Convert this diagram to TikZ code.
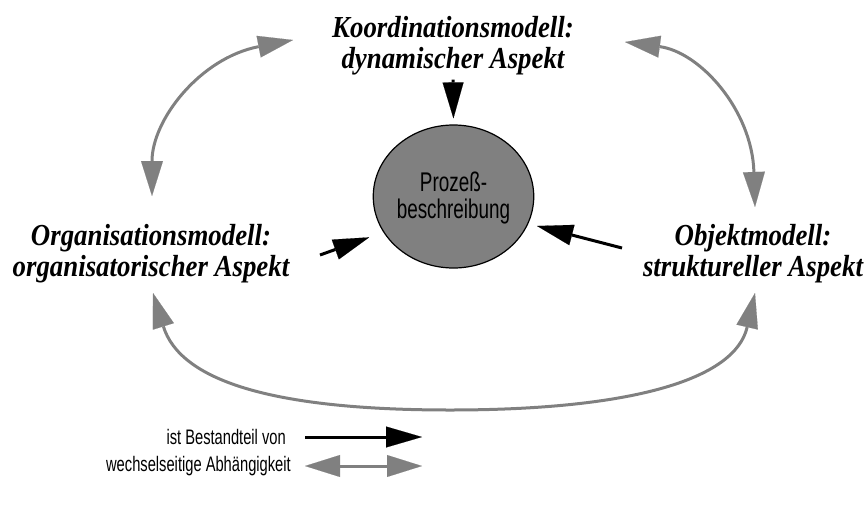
\documentclass[tikz,border=0pt]{standalone}
\usepackage{fontspec}
\setmainfont{Liberation Serif}[FakeStretch=0.88]
\newfontfamily\narrowsans{Liberation Sans}[FakeStretch=0.7]
\usetikzlibrary{arrows.meta,shapes.geometric}
\definecolor{depgray}{RGB}{128,128,128}
\definecolor{procgray}{RGB}{128,128,128}

\begin{document}
\begin{tikzpicture}[x=1pt,y=-1pt,
  model/.style={font=\bfseries\itshape\fontsize{30.5}{31}\selectfont,
    align=center, inner sep=0pt},
  procnode/.style={ellipse, draw=black, line width=1.2pt, fill=procgray,
    minimum width=151pt, minimum height=143pt, inner sep=0pt, align=center,
    font=\narrowsans\fontsize{27}{27}\selectfont},
  partof/.style={draw=black, line width=3pt,
    -{Triangle[length=36pt,width=21pt,line width=0.1pt]}},
  mutual/.style={draw=depgray, line width=3pt,
    {Triangle[length=35pt,width=22pt,line width=0.1pt]}-{Triangle[length=35pt,width=22pt,line width=0.1pt]}},
  legendtext/.style={font=\narrowsans\fontsize{21}{24}\selectfont, inner sep=0pt, anchor=east}]

  \useasboundingbox (0,0) rectangle (867,506);

  % the three partial models and the process description
  \node[model] (koord) at (453,46) {Koordinationsmodell:\\dynamischer Aspekt};
  \node[model] (orga)  at (151,254) {Organisationsmodell:\\organisatorischer Aspekt};
  \node[model] (objekt) at (753,254) {Objektmodell:\\struktureller Aspekt};
  \node[procnode] (proc) at (453.5,196.5) {\rule{0pt}{22pt}Prozeß-\\beschreibung};

  % "is part of" arrows
  \coordinate (orgtail) at (320,255);
  \coordinate (objtail) at (622,248);
  \draw[partof, shorten <=4pt, shorten >=6pt] (koord.south) -- (proc.north);
  \draw[partof, shorten >=15pt] (orgtail) -- (proc.207);
  \draw[partof, shorten >=9pt] (objtail) -- (proc.340);

  % mutual dependencies between the partial models
  \coordinate (koL) at (293,40);
  \coordinate (orU) at (152,196);
  \coordinate (koR) at (625,42);
  \coordinate (obU) at (755,207);
  \coordinate (orD) at (153,293);
  \coordinate (obD) at (755,293);
  \draw[mutual] (orU) .. controls (152,120) and (200,58) .. (koL);
  \draw[mutual] (koR) .. controls (700,52) and (752,110) .. (obU);
  \draw[mutual] (orD) .. controls (180,380) and (270,410) .. (450,410)
                      .. controls (630,410) and (735,380) .. (obD);

  % legend
  \node[legendtext] (leg1) at (286,437) {ist Bestandteil von};
  \node[legendtext] (leg2) at (291,466) {wechselseitige Abhängigkeit};
  \coordinate (l1a) at (305,437);
  \coordinate (l1b) at (422,437);
  \coordinate (l2a) at (305,466);
  \coordinate (l2b) at (422,466);
  \draw[partof] (l1a) -- (l1b);
  \draw[mutual] (l2a) -- (l2b);
\end{tikzpicture}
\end{document}
